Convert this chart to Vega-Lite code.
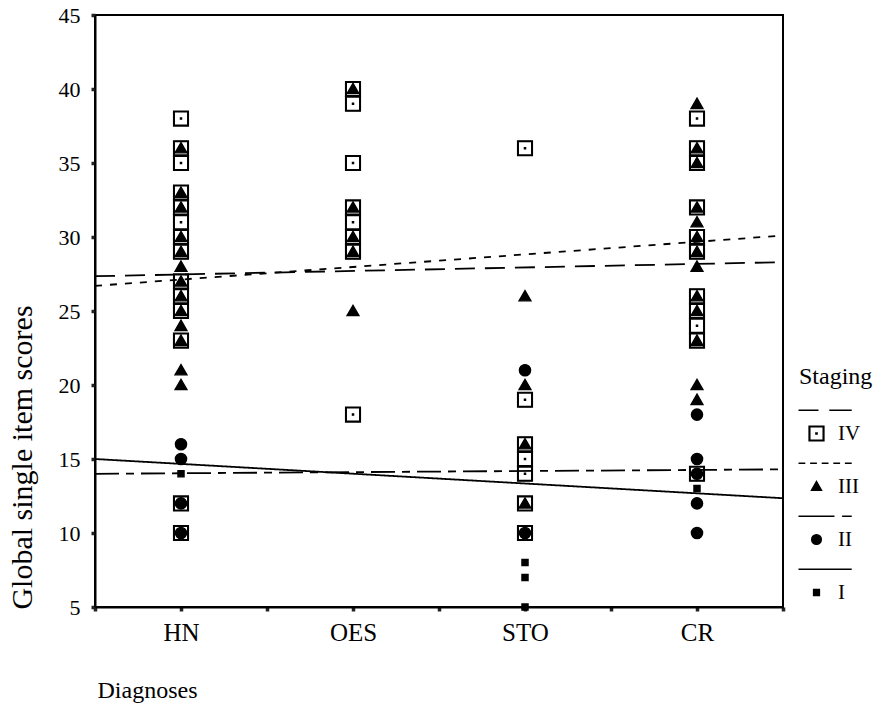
{
  "$schema": "https://vega.github.io/schema/vega-lite/v6.json",
  "width": 688,
  "height": 592,
  "autosize": {"type": "none"},
  "padding": {"left": 95, "top": 15, "right": 104, "bottom": 108},
  "background": "white",
  "config": {
    "view": {"stroke": "black", "strokeWidth": 2},
    "font": "Liberation Serif",
    "axis": {
      "domainColor": "black",
      "domainWidth": 2,
      "tickColor": "#222",
      "tickSize": 4,
      "tickWidth": 3.5,
      "grid": false,
      "labelColor": "black",
      "titleColor": "black",
      "titleFontWeight": "normal",
      "labelFont": "Liberation Serif",
      "titleFont": "Liberation Serif"
    }
  },
  "datasets": {
    "scores": [
      {"diagnosis": "HN", "code": 1, "stage": "IV", "score": 38},
      {"diagnosis": "HN", "code": 1, "stage": "IV", "score": 36},
      {"diagnosis": "HN", "code": 1, "stage": "IV", "score": 35},
      {"diagnosis": "HN", "code": 1, "stage": "IV", "score": 33},
      {"diagnosis": "HN", "code": 1, "stage": "IV", "score": 32},
      {"diagnosis": "HN", "code": 1, "stage": "IV", "score": 31},
      {"diagnosis": "HN", "code": 1, "stage": "IV", "score": 30},
      {"diagnosis": "HN", "code": 1, "stage": "IV", "score": 29},
      {"diagnosis": "HN", "code": 1, "stage": "IV", "score": 27},
      {"diagnosis": "HN", "code": 1, "stage": "IV", "score": 26},
      {"diagnosis": "HN", "code": 1, "stage": "IV", "score": 25},
      {"diagnosis": "HN", "code": 1, "stage": "IV", "score": 23},
      {"diagnosis": "HN", "code": 1, "stage": "IV", "score": 12},
      {"diagnosis": "HN", "code": 1, "stage": "IV", "score": 10},
      {"diagnosis": "OES", "code": 2, "stage": "IV", "score": 40},
      {"diagnosis": "OES", "code": 2, "stage": "IV", "score": 39},
      {"diagnosis": "OES", "code": 2, "stage": "IV", "score": 35},
      {"diagnosis": "OES", "code": 2, "stage": "IV", "score": 32},
      {"diagnosis": "OES", "code": 2, "stage": "IV", "score": 31},
      {"diagnosis": "OES", "code": 2, "stage": "IV", "score": 30},
      {"diagnosis": "OES", "code": 2, "stage": "IV", "score": 29},
      {"diagnosis": "OES", "code": 2, "stage": "IV", "score": 18},
      {"diagnosis": "STO", "code": 3, "stage": "IV", "score": 36},
      {"diagnosis": "STO", "code": 3, "stage": "IV", "score": 19},
      {"diagnosis": "STO", "code": 3, "stage": "IV", "score": 16},
      {"diagnosis": "STO", "code": 3, "stage": "IV", "score": 15},
      {"diagnosis": "STO", "code": 3, "stage": "IV", "score": 14},
      {"diagnosis": "STO", "code": 3, "stage": "IV", "score": 12},
      {"diagnosis": "STO", "code": 3, "stage": "IV", "score": 10},
      {"diagnosis": "CR", "code": 4, "stage": "IV", "score": 38},
      {"diagnosis": "CR", "code": 4, "stage": "IV", "score": 36},
      {"diagnosis": "CR", "code": 4, "stage": "IV", "score": 35},
      {"diagnosis": "CR", "code": 4, "stage": "IV", "score": 32},
      {"diagnosis": "CR", "code": 4, "stage": "IV", "score": 30},
      {"diagnosis": "CR", "code": 4, "stage": "IV", "score": 29},
      {"diagnosis": "CR", "code": 4, "stage": "IV", "score": 26},
      {"diagnosis": "CR", "code": 4, "stage": "IV", "score": 25},
      {"diagnosis": "CR", "code": 4, "stage": "IV", "score": 24},
      {"diagnosis": "CR", "code": 4, "stage": "IV", "score": 23},
      {"diagnosis": "CR", "code": 4, "stage": "IV", "score": 14},
      {"diagnosis": "HN", "code": 1, "stage": "II", "score": 16},
      {"diagnosis": "HN", "code": 1, "stage": "II", "score": 15},
      {"diagnosis": "HN", "code": 1, "stage": "II", "score": 12},
      {"diagnosis": "HN", "code": 1, "stage": "II", "score": 10},
      {"diagnosis": "STO", "code": 3, "stage": "II", "score": 21},
      {"diagnosis": "STO", "code": 3, "stage": "II", "score": 10},
      {"diagnosis": "CR", "code": 4, "stage": "II", "score": 18},
      {"diagnosis": "CR", "code": 4, "stage": "II", "score": 15},
      {"diagnosis": "CR", "code": 4, "stage": "II", "score": 14},
      {"diagnosis": "CR", "code": 4, "stage": "II", "score": 12},
      {"diagnosis": "CR", "code": 4, "stage": "II", "score": 10},
      {"diagnosis": "HN", "code": 1, "stage": "I", "score": 14},
      {"diagnosis": "STO", "code": 3, "stage": "I", "score": 8},
      {"diagnosis": "STO", "code": 3, "stage": "I", "score": 7},
      {"diagnosis": "STO", "code": 3, "stage": "I", "score": 5},
      {"diagnosis": "CR", "code": 4, "stage": "I", "score": 13},
      {"diagnosis": "HN", "code": 1, "stage": "III", "score": 36},
      {"diagnosis": "HN", "code": 1, "stage": "III", "score": 33},
      {"diagnosis": "HN", "code": 1, "stage": "III", "score": 32},
      {"diagnosis": "HN", "code": 1, "stage": "III", "score": 30},
      {"diagnosis": "HN", "code": 1, "stage": "III", "score": 29},
      {"diagnosis": "HN", "code": 1, "stage": "III", "score": 28},
      {"diagnosis": "HN", "code": 1, "stage": "III", "score": 27},
      {"diagnosis": "HN", "code": 1, "stage": "III", "score": 26},
      {"diagnosis": "HN", "code": 1, "stage": "III", "score": 25},
      {"diagnosis": "HN", "code": 1, "stage": "III", "score": 24},
      {"diagnosis": "HN", "code": 1, "stage": "III", "score": 23},
      {"diagnosis": "HN", "code": 1, "stage": "III", "score": 21},
      {"diagnosis": "HN", "code": 1, "stage": "III", "score": 20},
      {"diagnosis": "OES", "code": 2, "stage": "III", "score": 40},
      {"diagnosis": "OES", "code": 2, "stage": "III", "score": 32},
      {"diagnosis": "OES", "code": 2, "stage": "III", "score": 30},
      {"diagnosis": "OES", "code": 2, "stage": "III", "score": 29},
      {"diagnosis": "OES", "code": 2, "stage": "III", "score": 25},
      {"diagnosis": "STO", "code": 3, "stage": "III", "score": 26},
      {"diagnosis": "STO", "code": 3, "stage": "III", "score": 20},
      {"diagnosis": "STO", "code": 3, "stage": "III", "score": 16},
      {"diagnosis": "STO", "code": 3, "stage": "III", "score": 12},
      {"diagnosis": "CR", "code": 4, "stage": "III", "score": 39},
      {"diagnosis": "CR", "code": 4, "stage": "III", "score": 36},
      {"diagnosis": "CR", "code": 4, "stage": "III", "score": 35},
      {"diagnosis": "CR", "code": 4, "stage": "III", "score": 32},
      {"diagnosis": "CR", "code": 4, "stage": "III", "score": 31},
      {"diagnosis": "CR", "code": 4, "stage": "III", "score": 30},
      {"diagnosis": "CR", "code": 4, "stage": "III", "score": 29},
      {"diagnosis": "CR", "code": 4, "stage": "III", "score": 28},
      {"diagnosis": "CR", "code": 4, "stage": "III", "score": 26},
      {"diagnosis": "CR", "code": 4, "stage": "III", "score": 25},
      {"diagnosis": "CR", "code": 4, "stage": "III", "score": 23},
      {"diagnosis": "CR", "code": 4, "stage": "III", "score": 20},
      {"diagnosis": "CR", "code": 4, "stage": "III", "score": 19}
    ],
    "fits": [
      {"stage": "IV", "code": 0.5, "score": 27.35},
      {"stage": "IV", "code": 4.5, "score": 28.3},
      {"stage": "III", "code": 0.5, "score": 26.7},
      {"stage": "III", "code": 4.5, "score": 30.1},
      {"stage": "II", "code": 0.5, "score": 14.0},
      {"stage": "II", "code": 4.5, "score": 14.3},
      {"stage": "I", "code": 0.5, "score": 15.0},
      {"stage": "I", "code": 4.5, "score": 12.35}
    ]
  },
  "encoding": {
    "x": {
      "field": "code",
      "type": "quantitative",
      "scale": {"domain": [0.5, 4.5], "nice": false, "zero": false},
      "axis": {
        "title": "Diagnoses",
        "values": [0.5, 1, 1.5, 2, 2.5, 3, 3.5, 4, 4.5],
        "labelExpr": "datum.value === 1 ? 'HN' : datum.value === 2 ? 'OES' : datum.value === 3 ? 'STO' : datum.value === 4 ? 'CR' : ''",
        "labelFont": "Liberation Serif",
        "labelFontSize": 25,
        "labelPadding": 9,
        "labelFlush": false,
        "labelOverlap": false,
        "titleFont": "Liberation Serif",
        "titleFontSize": 24,
        "titleAnchor": "start",
        "titleAlign": "left",
        "titleBaseline": "middle",
        "titleX": 2,
        "titleY": 83
      }
    },
    "y": {
      "field": "score",
      "type": "quantitative",
      "scale": {"domain": [5, 45], "nice": false, "zero": false},
      "axis": {
        "title": "Global single item scores",
        "values": [5, 10, 15, 20, 25, 30, 35, 40, 45],
        "labelFont": "Liberation Serif",
        "labelFontSize": 22,
        "labelPadding": 11,
        "labelFlush": false,
        "labelOverlap": false,
        "titleFont": "Liberation Serif",
        "titleFontSize": 30,
        "titleAlign": "center",
        "titleBaseline": "middle",
        "titleAngle": -90,
        "titleX": -73,
        "titleY": 442
      }
    }
  },
  "layer": [
    {
      "data": {"name": "fits"},
      "mark": {"type": "line", "color": "black", "strokeWidth": 1.8},
      "encoding": {
        "detail": {"field": "stage", "type": "nominal"},
        "strokeDash": {
          "field": "stage",
          "type": "nominal",
          "scale": {
            "domain": ["IV", "III", "II", "I"],
            "range": [[20, 10], [7, 8], [24, 7, 8, 7], [1, 0]]
          },
          "legend": null
        }
      }
    },
    {
      "data": {"name": "scores"},
      "mark": {"type": "point", "filled": true, "color": "black", "size": 256, "stroke": "black", "strokeWidth": 1.4, "opacity": 1},
      "encoding": {
        "shape": {
          "field": "stage",
          "type": "nominal",
          "scale": {
            "domain": ["IV", "III", "II", "I"],
            "range": [
              "M-0.92,-0.92L0.92,-0.92L0.92,0.92L-0.92,0.92ZM-0.84,-0.84L-0.84,0.84L0.84,0.84L0.84,-0.84ZM-0.07,-0.07L0.07,-0.07L0.07,0.07L-0.07,0.07Z",
              "M0,-0.7L0.74,0.58L-0.74,0.58Z",
              "M0.7,0A0.7,0.7,0,1,1,-0.7,0A0.7,0.7,0,1,1,0.7,0Z",
              "M-0.38,-0.38L0.38,-0.38L0.38,0.38L-0.38,0.38Z"
            ]
          },
          "legend": null
        }
      }
    },
    {
      "data": {"name": "scores"},
      "mark": {"type": "point", "filled": true, "color": "black", "stroke": "black", "strokeWidth": 1.6, "size": 256, "opacity": 0},
      "encoding": {
        "shape": {
          "field": "stage",
          "type": "nominal",
          "scale": {
            "domain": ["IV", "III", "II", "I"],
            "range": [
              "M-2.25,-2.9L0.25,-2.9M1.6,-2.9L4.4,-2.9M-0.92,-0.92L0.92,-0.92L0.92,0.92L-0.92,0.92ZM-0.84,-0.84L-0.84,0.84L0.84,0.84L0.84,-0.84ZM-0.07,-0.07L0.07,-0.07L0.07,0.07L-0.07,0.07Z",
              "M-2.25,-2.9L-1.4,-2.9M-0.8,-2.9L0.05,-2.9M0.65,-2.9L1.5,-2.9M2.1,-2.9L2.95,-2.9M3.55,-2.9L4.4,-2.9M0,-0.62L0.62,0.48L-0.62,0.48Z",
              "M-2.25,-2.9L2.25,-2.9M3.2,-2.9L4.4,-2.9M0.6,0A0.6,0.6,0,1,1,-0.6,0A0.6,0.6,0,1,1,0.6,0Z",
              "M-2.25,-2.9L4.4,-2.9M-0.36,-0.36L0.36,-0.36L0.36,0.36L-0.36,0.36Z"
            ]
          },
          "legend": {
            "title": "Staging",
            "orient": "none",
            "legendX": 704,
            "legendY": 350,
            "padding": 0,
            "titleFont": "Liberation Serif",
            "titleFontSize": 24,
            "titleFontWeight": "normal",
            "titleColor": "black",
            "titlePadding": 34,
            "labelFont": "Liberation Serif",
            "labelFontSize": 21,
            "labelColor": "black",
            "labelOffset": 11,
            "symbolOffset": 7,
            "symbolSize": 256,
            "symbolOpacity": 1,
            "rowPadding": 16,
            "encode": {
              "symbols": {
                "fill": {"value": "black"},
                "stroke": {"value": "black"},
                "strokeWidth": {"value": 1.6},
                "opacity": {"value": 1}
              }
            }
          }
        }
      }
    }
  ],
  "resolve": {"scale": {"shape": "independent"}, "legend": {"shape": "independent"}}
}
